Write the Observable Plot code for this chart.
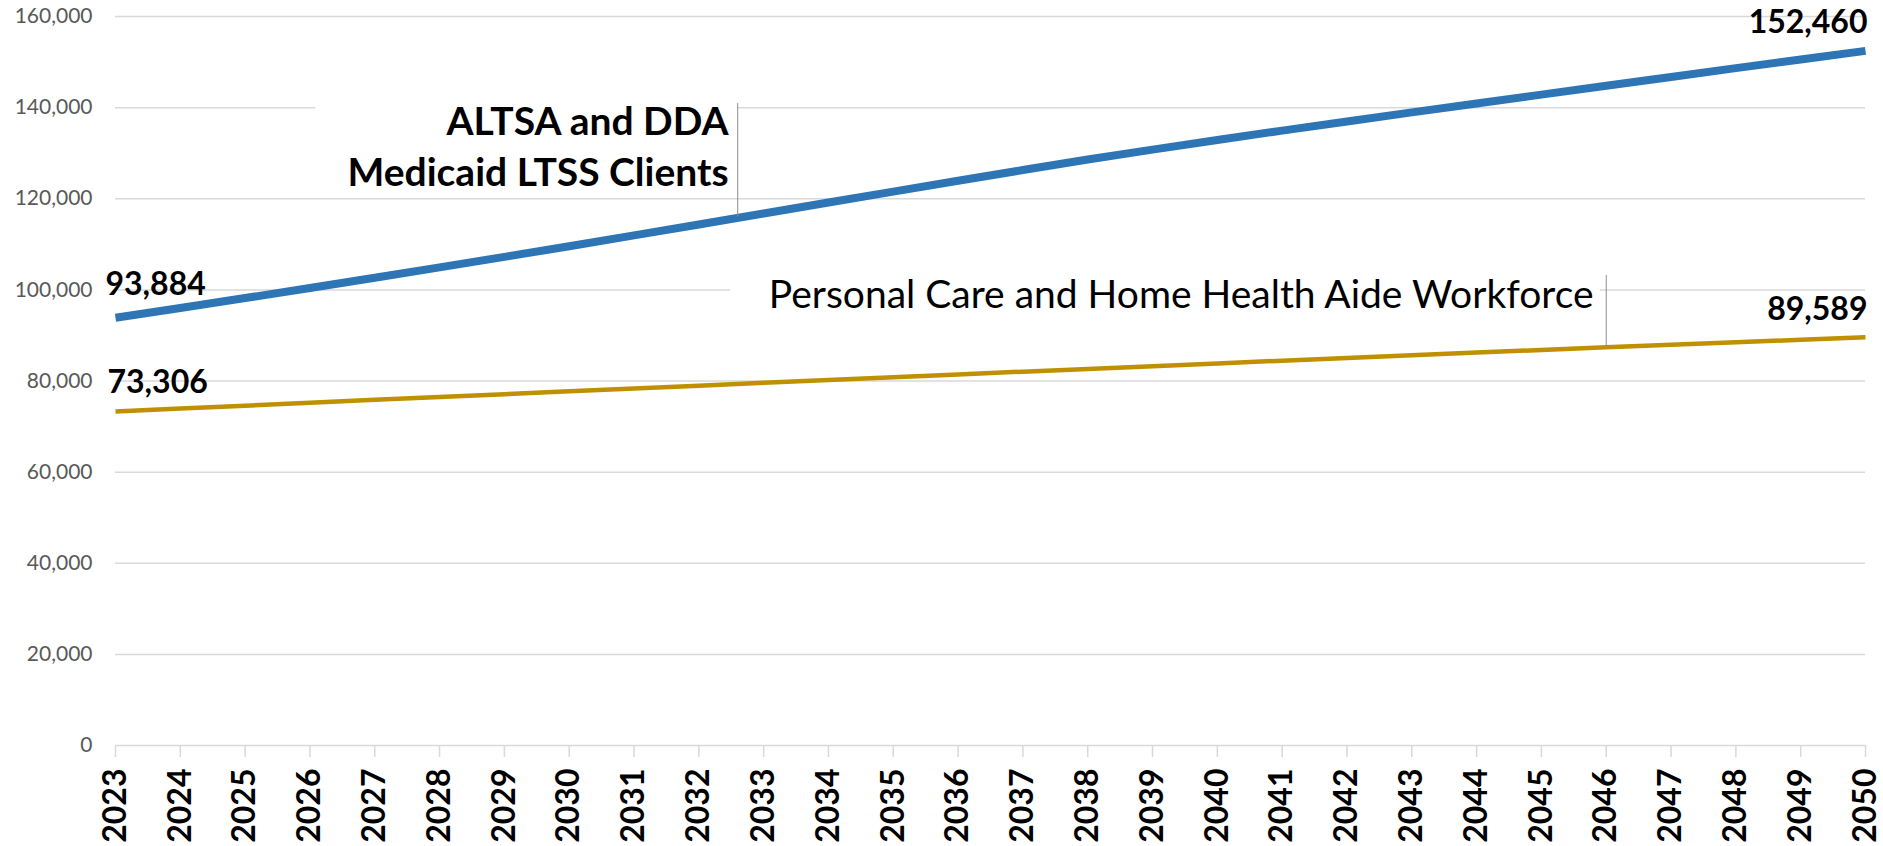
<!DOCTYPE html>
<html>
<head>
<meta charset="utf-8">
<script src="https://cdn.jsdelivr.net/npm/d3@7"></script>
<script src="https://cdn.jsdelivr.net/npm/@observablehq/plot@0.6"></script>
<style>
  html, body { margin: 0; padding: 0; background: #fff; overflow: hidden; }
  #chart svg { display: block; }
</style>
</head>
<body>
<div id="chart"></div>
<script>
// ---- Data ----
const years = [2023,2024,2025,2026,2027,2028,2029,2030,2031,2032,2033,2034,2035,2036,
               2037,2038,2039,2040,2041,2042,2043,2044,2045,2046,2047,2048,2049,2050];

// ALTSA and DDA Medicaid LTSS Clients
const clients = [93884,96030,98200,100400,102650,104930,107240,109580,111950,114350,
                 116760,119170,121570,123950,126300,128620,130780,132900,134960,136960,
                 138950,140910,142860,144800,146740,148670,150580,152460];

// Personal Care and Home Health Aide Workforce
const workforce = [73306,73950,74590,75230,75860,76490,77110,77730,78350,78970,
                   79590,80210,80830,81440,82050,82660,83260,83860,84460,85050,
                   85640,86230,86810,87390,87950,88500,89050,89589];

const yTicks = [0,20000,40000,60000,80000,100000,120000,140000,160000];

const clientsLabel = "ALTSA and DDA\nMedicaid LTSS Clients";
const workforceLabel = "Personal Care and Home Health Aide Workforce";

// Annotation anchors in data units (year, value)
const clientsNote   = {year: 2032.46, value: 122730, leaderYear: 2032.60, leaderTop: 140900, leaderBottom: 116000,
                       boxYear1: 2026.09, boxYear2: 2032.60, boxLow: 120490, boxHigh: 143320};
const workforceNote = {year: 2033.08, value: 96130, leaderYear: 2046.0, leaderTop: 103150, leaderBottom: 87390,
                       boxYear1: 2032.49, boxYear2: 2045.91, boxLow: 93710, boxHigh: 104250};

// ---- Build tables ----
const clientRows = years.map((year, i) => ({year, value: clients[i]}));
const workRows   = years.map((year, i) => ({year, value: workforce[i]}));
const notes = [clientsNote, workforceNote];
const fmt = d3.format(",");

const FONT = "Lato, 'Open Sans', sans-serif";
const BLUE = "#2E75B6";
const GOLD = "#BF9000";
const GRID = "#d9d9d9";

const chart = Plot.plot({
  width: 1883,
  height: 846,
  marginLeft: 115,
  marginRight: 18,
  marginTop: 16,
  marginBottom: 101,
  style: {fontFamily: FONT, background: "#fff", color: "#000", overflow: "visible"},
  x: {type: "linear", domain: [years[0], years[years.length - 1]]},
  y: {domain: [yTicks[0], yTicks[yTicks.length - 1]]},
  marks: [
    Plot.gridY(yTicks, {stroke: GRID, strokeOpacity: 1, strokeWidth: 1.5}),
    Plot.axisY(yTicks, {
      tickSize: 0, tickPadding: 23, tickFormat: fmt,
      fontSize: 21, fill: "#595959", fontFamily: FONT, label: null
    }),
    Plot.axisX(years, {
      tickSize: 12, tickPadding: 11, tickRotate: -90, tickFormat: d => String(d),
      fontSize: 32, fontWeight: "bold", fill: "#000", stroke: GRID, strokeWidth: 1.5,
      fontFamily: FONT, label: null
    }),
    // white backgrounds behind annotation text boxes
    Plot.rect(notes, {x1: "boxYear1", x2: "boxYear2", y1: "boxLow", y2: "boxHigh", fill: "#fff"}),
    // series lines
    Plot.line(workRows, {x: "year", y: "value", stroke: GOLD, strokeWidth: 4.5, strokeLinecap: "butt"}),
    Plot.line(clientRows, {x: "year", y: "value", stroke: BLUE, strokeWidth: 8, strokeLinecap: "butt"}),
    // leader lines
    Plot.ruleX(notes, {x: "leaderYear", y1: "leaderBottom", y2: "leaderTop", stroke: "#8c8c8c", strokeWidth: 1}),
    // annotation texts
    Plot.text([clientsNote], {
      x: "year", y: "value", text: () => clientsLabel, textAnchor: "end", lineAnchor: "bottom",
      fontSize: 39, fontWeight: "bold", lineHeight: 51 / 39, fill: "#000", fontFamily: FONT
    }),
    Plot.text([workforceNote], {
      x: "year", y: "value", text: () => workforceLabel, textAnchor: "start", lineAnchor: "bottom",
      fontSize: 39, fill: "#000", fontFamily: FONT
    }),
    // start / end value labels
    Plot.text([clientRows[0]], {x: "year", y: "value", text: d => fmt(d.value), textAnchor: "start",
      lineAnchor: "bottom", dx: -10, dy: -23, fontSize: 32, fontWeight: "bold", fill: "#000", fontFamily: FONT}),
    Plot.text([workRows[0]], {x: "year", y: "value", text: d => fmt(d.value), textAnchor: "start",
      lineAnchor: "bottom", dx: -8, dy: -18, fontSize: 32, fontWeight: "bold", fill: "#000", fontFamily: FONT}),
    Plot.text([clientRows[clientRows.length - 1]], {x: "year", y: "value", text: d => fmt(d.value), textAnchor: "end",
      lineAnchor: "bottom", dx: 2, dy: -18, fontSize: 32, fontWeight: "bold", fill: "#000", fontFamily: FONT}),
    Plot.text([workRows[workRows.length - 1]], {x: "year", y: "value", text: d => fmt(d.value), textAnchor: "end",
      lineAnchor: "bottom", dx: 2, dy: -17, fontSize: 32, fontWeight: "bold", fill: "#000", fontFamily: FONT})
  ]
});

document.getElementById("chart").appendChild(chart);
</script>
</body>
</html>
